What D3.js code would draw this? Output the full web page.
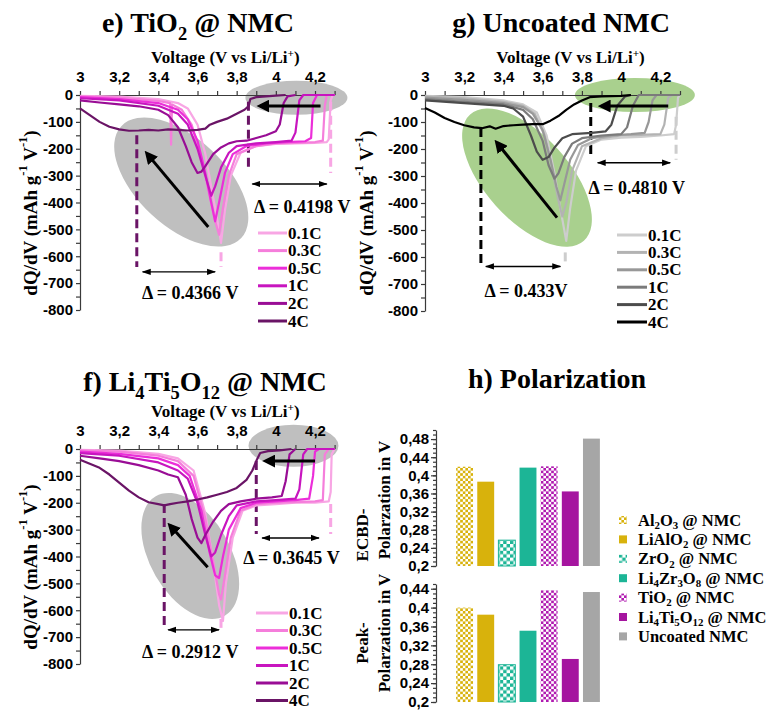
<!DOCTYPE html>
<html>
<head>
<meta charset="utf-8">
<script src="https://cdn.jsdelivr.net/npm/d3@7"></script>
<style>
  html, body { margin: 0; padding: 0; background: #fff; }
  svg { display: block; }
  .serif { font-family: "Liberation Serif", "Times New Roman", serif; font-weight: bold; fill: #000; }
  .tick text { font-family: "Liberation Sans", Arial, sans-serif; font-weight: bold; font-size: 15px; fill: #000; }
  .tick line, .domain { stroke: #3a3a3a; stroke-width: 1.2; }
</style>
</head>
<body>
<svg id="chart"></svg>
<script>
// ---------- data ----------
const rateLabels = ['0.1C', '0.3C', '0.5C', '1C', '2C', '4C'];

// e) TiO2 @ NMC  [voltage, dQ/dV]
const tio2_01C = [[3.00,-3],[3.20,-6],[3.40,-15],[3.50,-30],[3.55,-50],[3.60,-110],[3.64,-220],[3.68,-380],[3.71,-500],[3.72,-550],[3.74,-430],[3.77,-300],[3.82,-215],[3.90,-190],[4.00,-182],[4.10,-180],[4.20,-178],[4.26,-175],[4.27,-165],[4.28,-20],[4.29,0],[4.30,0]];
const tio2_03C = [[3.00,-5],[3.20,-10],[3.40,-22],[3.46,-30],[3.465,-185],[3.47,-35],[3.52,-55],[3.57,-110],[3.62,-230],[3.66,-370],[3.69,-470],[3.71,-520],[3.73,-420],[3.76,-300],[3.80,-220],[3.90,-190],[4.00,-180],[4.10,-178],[4.20,-175],[4.24,-170],[4.25,-40],[4.26,0],[4.30,0]];
const tio2_05C = [[3.00,-8],[3.20,-15],[3.40,-30],[3.50,-55],[3.55,-90],[3.60,-170],[3.64,-290],[3.67,-400],[3.69,-470],[3.71,-400],[3.74,-290],[3.78,-220],[3.85,-190],[3.95,-180],[4.05,-175],[4.15,-172],[4.18,-160],[4.19,-30],[4.21,0],[4.30,0]];
const tio2_1C = [[3.00,-12],[3.20,-20],[3.40,-40],[3.50,-70],[3.55,-110],[3.60,-200],[3.64,-300],[3.67,-375],[3.69,-340],[3.72,-270],[3.76,-215],[3.80,-190],[3.90,-180],[4.00,-175],[4.08,-170],[4.10,-140],[4.12,-20],[4.14,0],[4.30,0]];
const tio2_2C = [[3.00,-20],[3.10,-28],[3.20,-35],[3.30,-42],[3.40,-55],[3.45,-75],[3.50,-120],[3.54,-190],[3.57,-250],[3.60,-290],[3.62,-285],[3.64,-265],[3.68,-220],[3.72,-195],[3.76,-180],[3.80,-172],[3.85,-170],[3.90,-160],[3.95,-150],[4.00,-135],[4.02,-110],[4.04,-30],[4.06,-5],[4.10,0]];
const tio2_4C = [[3.00,-50],[3.05,-75],[3.10,-100],[3.15,-118],[3.20,-128],[3.25,-133],[3.30,-132],[3.35,-130],[3.40,-132],[3.45,-128],[3.50,-130],[3.55,-132],[3.60,-130],[3.64,-125],[3.66,-112],[3.70,-100],[3.75,-88],[3.80,-70],[3.84,-55],[3.86,-42],[3.87,-15],[3.90,-8],[3.95,-5],[4.00,-2],[4.05,0]];
const tio2Curves = [tio2_01C, tio2_03C, tio2_05C, tio2_1C, tio2_2C, tio2_4C];

// g) Uncoated NMC
const bare_01C = [[3.00,-3],[3.20,-8],[3.40,-20],[3.50,-35],[3.57,-65],[3.62,-150],[3.66,-290],[3.69,-420],[3.71,-500],[3.72,-540],[3.74,-420],[3.77,-280],[3.82,-190],[3.90,-165],[4.00,-158],[4.10,-155],[4.20,-150],[4.27,-145],[4.28,-110],[4.29,-10],[4.30,0]];
const bare_03C = [[3.00,-5],[3.20,-12],[3.40,-25],[3.50,-40],[3.56,-70],[3.61,-150],[3.65,-280],[3.68,-390],[3.70,-450],[3.72,-400],[3.75,-280],[3.80,-190],[3.90,-160],[4.00,-150],[4.10,-148],[4.20,-145],[4.22,-110],[4.24,-10],[4.26,0],[4.30,0]];
const bare_05C = [[3.00,-10],[3.20,-18],[3.40,-30],[3.50,-45],[3.55,-70],[3.60,-130],[3.64,-240],[3.67,-340],[3.69,-390],[3.71,-330],[3.74,-240],[3.78,-185],[3.85,-160],[3.95,-150],[4.05,-145],[4.12,-140],[4.14,-100],[4.16,-20],[4.18,0],[4.30,0]];
const bare_1C = [[3.00,-15],[3.20,-25],[3.40,-35],[3.50,-55],[3.55,-90],[3.60,-170],[3.63,-260],[3.66,-310],[3.68,-290],[3.71,-230],[3.75,-180],[3.80,-160],[3.90,-150],[4.00,-145],[4.03,-120],[4.06,-40],[4.09,0],[4.30,0]];
const bare_2C = [[3.00,-20],[3.20,-30],[3.40,-40],[3.45,-50],[3.50,-80],[3.54,-150],[3.57,-210],[3.60,-240],[3.63,-230],[3.66,-195],[3.70,-160],[3.75,-145],[3.85,-140],[3.92,-135],[3.95,-110],[3.98,-40],[4.02,-5],[4.05,0]];
const bare_4C = [[3.00,-48],[3.05,-65],[3.10,-85],[3.15,-100],[3.20,-112],[3.25,-120],[3.29,-123],[3.33,-116],[3.36,-125],[3.40,-115],[3.45,-112],[3.50,-110],[3.55,-108],[3.60,-108],[3.64,-95],[3.68,-78],[3.72,-55],[3.76,-35],[3.80,-20],[3.84,-8],[3.90,-5],[4.00,-3],[4.05,0]];
const bareCurves = [bare_01C, bare_03C, bare_05C, bare_1C, bare_2C, bare_4C];

// f) Li4Ti5O12 @ NMC
const lto_01C = [[3.00,-3],[3.20,-6],[3.40,-18],[3.50,-35],[3.58,-80],[3.64,-240],[3.68,-420],[3.71,-580],[3.73,-640],[3.745,-500],[3.78,-330],[3.83,-230],[3.90,-210],[4.00,-205],[4.10,-200],[4.20,-200],[4.27,-195],[4.28,-160],[4.285,-20],[4.30,0]];
const lto_03C = [[3.00,-5],[3.20,-10],[3.40,-25],[3.50,-45],[3.58,-100],[3.64,-260],[3.68,-420],[3.71,-540],[3.72,-560],[3.74,-470],[3.77,-330],[3.82,-230],[3.90,-205],[4.00,-200],[4.10,-198],[4.20,-195],[4.24,-190],[4.25,-20],[4.27,0],[4.30,0]];
const lto_05C = [[3.00,-10],[3.20,-18],[3.40,-35],[3.50,-60],[3.56,-100],[3.62,-230],[3.66,-380],[3.69,-470],[3.71,-480],[3.73,-400],[3.76,-300],[3.82,-220],[3.90,-200],[4.00,-195],[4.10,-190],[4.17,-185],[4.19,-100],[4.20,-10],[4.22,0],[4.30,0]];
const lto_1C = [[3.00,-15],[3.20,-25],[3.40,-50],[3.50,-80],[3.55,-110],[3.60,-200],[3.64,-320],[3.67,-400],[3.69,-385],[3.72,-320],[3.76,-250],[3.80,-210],[3.90,-195],[4.00,-190],[4.10,-185],[4.12,-150],[4.14,-20],[4.16,0],[4.30,0]];
const lto_2C = [[3.00,-25],[3.10,-35],[3.20,-45],[3.30,-60],[3.40,-80],[3.45,-95],[3.50,-105],[3.54,-170],[3.57,-260],[3.60,-330],[3.62,-350],[3.64,-320],[3.68,-270],[3.72,-230],[3.76,-205],[3.82,-195],[3.90,-185],[3.98,-180],[4.03,-175],[4.05,-120],[4.07,-20],[4.10,0]];
const lto_4C = [[3.00,-40],[3.05,-55],[3.10,-70],[3.15,-95],[3.20,-125],[3.25,-155],[3.30,-180],[3.35,-198],[3.40,-205],[3.43,-210],[3.46,-205],[3.50,-200],[3.55,-195],[3.60,-188],[3.65,-180],[3.70,-170],[3.75,-160],[3.80,-145],[3.85,-115],[3.88,-80],[3.90,-45],[3.92,-15],[3.96,-8],[4.02,-5],[4.08,0]];
const ltoCurves = [lto_01C, lto_03C, lto_05C, lto_1C, lto_2C, lto_4C];

// h) Polarization
const coatings = ['Al_{2}O_{3} @ NMC', 'LiAlO_{2} @ NMC', 'ZrO_{2} @ NMC', 'Li_{4}Zr_{3}O_{8} @ NMC', 'TiO_{2} @ NMC', 'Li_{4}Ti_{5}O_{12} @ NMC', 'Uncoated NMC'];
const ecbdPolarization = [0.419, 0.386, 0.257, 0.417, 0.4198, 0.3645, 0.481];
const peakPolarization = [0.400, 0.385, 0.279, 0.351, 0.4366, 0.2912, 0.433];
const ecbdTicks = [0.2, 0.24, 0.28, 0.32, 0.36, 0.4, 0.44, 0.48];
const peakTicks = [0.2, 0.24, 0.28, 0.32, 0.36, 0.4, 0.44];

// ---------- styles ----------
const magentas = ['#f8a6e4', '#f57edb', '#ec2ed9', '#c815bf', '#990d95', '#6a1466'];
const grays = ['#cdcdcd', '#b3b3b3', '#989898', '#7b7b7b', '#4c4c4c', '#000000'];
const gold = '#d8b20c', teal = '#1cb596', purple = '#a5159f', barGray = '#a6a6a6';

const svg = d3.select('#chart').attr('width', 777).attr('height', 711);
const defs = svg.append('defs');

// subscript / superscript helper: "TiO_{2}" , "Li^{+}"
function rich(text, str, fs, subShift = 0.28) {
  let off = 0;
  text.style('font-size', fs + 'px');
  str.split(/([_^]\{[^}]*\})/).filter(Boolean).forEach(part => {
    const m = part.match(/^([_^])\{(.*)\}$/);
    const target = m ? (m[1] === '_' ? fs * subShift : -fs * 0.38) : 0;
    text.append('tspan')
      .attr('dy', target - off)
      .style('font-size', m ? (fs * 0.66) + 'px' : null)
      .text(m ? m[2] : part);
    off = target;
  });
  return text;
}

function checker(id, color, size) {
  const p = defs.append('pattern').attr('id', id)
    .attr('patternUnits', 'userSpaceOnUse')
    .attr('width', size * 2).attr('height', size * 2);
  p.append('rect').attr('width', size * 2).attr('height', size * 2).attr('fill', color);
  p.append('rect').attr('width', size).attr('height', size).attr('fill', '#fff');
  p.append('rect').attr('x', size).attr('y', size).attr('width', size).attr('height', size).attr('fill', '#fff');
}
checker('chkGold', gold, 2.6);
checker('chkTeal', teal, 3.4);
checker('chkMag', '#b01ab0', 2.6);

defs.append('marker').attr('id', 'bigHead')
  .attr('viewBox', '0 0 10 10').attr('refX', 7).attr('refY', 5)
  .attr('markerUnits', 'userSpaceOnUse').attr('markerWidth', 13).attr('markerHeight', 13)
  .attr('orient', 'auto-start-reverse')
  .append('path').attr('d', 'M0,0 L10,5 L0,10 Z').attr('fill', '#000');
defs.append('marker').attr('id', 'thinHead')
  .attr('viewBox', '0 0 10 10').attr('refX', 9).attr('refY', 5)
  .attr('markerUnits', 'userSpaceOnUse').attr('markerWidth', 9).attr('markerHeight', 9)
  .attr('orient', 'auto-start-reverse')
  .append('path').attr('d', 'M0,1.5 L10,5 L0,8.5 Z').attr('fill', '#000');

// ---------- dQ/dV panels ----------
const panels = [
  {
    title: 'e) TiO_{2} @ NMC', titleX: 198, titleY: 32,
    left: 80, right: 334.6, top: 95, bottom: 310, yLabelX: 30,
    curves: tio2Curves, colors: magentas, blob: '#bfbfbf',
    ellipses: [{ v: 3.517, q: -324, rx: 82, ry: 44, rot: 43 }, { v: 4.105, q: -10, rx: 51, ry: 17, rot: 0 }],
    arrows: [{ from: [3.655, -491], to: [3.343, -219] }, { from: [4.228, -41], to: [3.921, -41] }],
    dashes: [{ v: 3.86, q: [-25, -285], c: 5 }, { v: 4.28, q: [-25, -290], c: 0 },
             { v: 3.29, q: [-150, -640], c: 5 }, { v: 3.72, q: [-585, -640], c: 0 }],
    spans: [{ v: [3.88, 4.26], q: -331 }, { v: [3.32, 3.69], q: -658 }],
    notes: [{ v: 4.135, q: -417, t: 'Δ = 0.4198 V' }, { v: 3.563, q: -737, t: 'Δ = 0.4366 V' }],
    legend: { x0: 258, x1: 287, y0: 233, step: 17.6 }
  },
  {
    title: 'g) Uncoated NMC', titleX: 561, titleY: 32,
    left: 425, right: 680, top: 95, bottom: 311, yLabelX: 366,
    curves: bareCurves, colors: grays, blob: '#a9d08e',
    ellipses: [{ v: 3.52, q: -306, rx: 85, ry: 42, rot: 48 }, { v: 4.07, q: 0, rx: 60, ry: 17, rot: 0 }],
    arrows: [{ from: [3.673, -454], to: [3.367, -177] }, { from: [4.24, -41], to: [3.90, -41] }],
    dashes: [{ v: 3.845, q: [-30, -232], c: 5 }, { v: 4.28, q: [-81, -240], c: 0 },
             { v: 3.285, q: [-122, -635], c: 5 }, { v: 3.715, q: [-583, -620], c: 0 }],
    spans: [{ v: [3.88, 4.25], q: -251 }, { v: [3.31, 3.69], q: -635 }],
    notes: [{ v: 4.08, q: -343, t: 'Δ = 0.4810 V' }, { v: 3.515, q: -727, t: 'Δ = 0.433V' }],
    legend: { x0: 617, x1: 647, y0: 235, step: 17.4 }
  },
  {
    title: 'f) Li_{4}Ti_{5}O_{12} @ NMC', titleX: 205, titleY: 391,
    left: 80, right: 334.6, top: 449, bottom: 664, yLabelX: 30,
    curves: ltoCurves, colors: magentas, blob: '#bfbfbf',
    ellipses: [{ v: 3.563, q: -398, rx: 69, ry: 40, rot: 60 }, { v: 4.09, q: 12, rx: 45, ry: 21, rot: 0 }],
    arrows: [{ from: [3.652, -440], to: [3.46, -285] }, { from: [4.20, -45], to: [3.95, -45] }],
    dashes: [{ v: 3.9, q: [-45, -316], c: 5 }, { v: 4.28, q: [-205, -316], c: 0 },
             { v: 3.43, q: [-205, -670], c: 5 }, { v: 3.72, q: [-632, -670], c: 0 }],
    spans: [{ v: [3.93, 4.22], q: -331 }, { v: [3.45, 3.71], q: -673 }],
    notes: [{ v: 4.08, q: -405, t: 'Δ = 0.3645 V' }, { v: 3.563, q: -755, t: 'Δ = 0.2912 V' }],
    legend: { x0: 256, x1: 288, y0: 613, step: 17.5 }
  }
];

panels.forEach(p => {
  const x = d3.scaleLinear().domain([3, 4.3]).range([p.left, p.right]);
  const y = d3.scaleLinear().domain([0, -800]).range([p.top, p.bottom]);
  const g = svg.append('g');

  // highlight blobs
  p.ellipses.forEach(e => {
    g.append('ellipse')
      .attr('cx', x(e.v)).attr('cy', y(e.q))
      .attr('rx', e.rx).attr('ry', e.ry)
      .attr('transform', `rotate(${e.rot},${x(e.v)},${y(e.q)})`)
      .attr('fill', p.blob);
  });

  // dashed markers
  p.dashes.forEach(d => {
    g.append('line')
      .attr('x1', x(d.v)).attr('x2', x(d.v))
      .attr('y1', y(d.q[0])).attr('y2', y(d.q[1]))
      .attr('stroke', p.colors[d.c]).attr('stroke-width', 3)
      .attr('stroke-dasharray', '9,5');
  });

  // axes
  const xAxis = d3.axisTop(x)
    .tickValues(d3.range(30, 44).map(d => d / 10))
    .tickSize(4).tickSizeOuter(0).tickPadding(9)
    .tickFormat(v => (Math.round(v * 10) % 2 === 0 && v <= 4.2) ? String(+v.toFixed(1)).replace('.', ',') : '');
  g.append('g').attr('transform', `translate(0,${p.top})`).call(xAxis);

  const yAxis = d3.axisLeft(y)
    .tickValues(d3.range(-800, 1, 50))
    .tickSize(4).tickSizeOuter(0).tickPadding(3)
    .tickFormat(v => v % 100 === 0 ? String(v) : '');
  g.append('g').attr('transform', `translate(${p.left},0)`).call(yAxis);

  // curves
  const line = d3.line().x(d => x(d[0])).y(d => y(d[1]));
  p.curves.forEach((c, i) => {
    g.append('path').datum(c)
      .attr('d', line)
      .attr('fill', 'none')
      .attr('stroke', p.colors[i])
      .attr('stroke-width', 2.2)
      .attr('stroke-linejoin', 'round');
  });

  // trend arrows
  p.arrows.forEach(a => {
    g.append('line')
      .attr('x1', x(a.from[0])).attr('y1', y(a.from[1]))
      .attr('x2', x(a.to[0])).attr('y2', y(a.to[1]))
      .attr('stroke', '#000').attr('stroke-width', 3)
      .attr('marker-end', 'url(#bigHead)');
  });

  // delta spans
  p.spans.forEach(s => {
    g.append('line')
      .attr('x1', x(s.v[0])).attr('x2', x(s.v[1]))
      .attr('y1', y(s.q)).attr('y2', y(s.q))
      .attr('stroke', '#000').attr('stroke-width', 1.4)
      .attr('marker-start', 'url(#thinHead)').attr('marker-end', 'url(#thinHead)');
  });
  p.notes.forEach(n => {
    g.append('text').attr('class', 'serif')
      .attr('x', x(n.v)).attr('y', y(n.q))
      .attr('text-anchor', 'middle').attr('dominant-baseline', 'central')
      .style('font-size', '18px')
      .text(n.t);
  });

  // titles
  rich(g.append('text').attr('class', 'serif')
    .attr('x', p.titleX).attr('y', p.titleY).attr('text-anchor', 'middle'), p.title, 28);
  rich(g.append('text').attr('class', 'serif')
    .attr('x', (p.left + p.right) / 2 + 18).attr('y', p.top - 32).attr('text-anchor', 'middle'),
    'Voltage (V vs Li/Li^{+})', 17);
  rich(g.append('text').attr('class', 'serif')
    .attr('transform', `translate(${p.yLabelX},${p.top + 118}) rotate(-90)`)
    .attr('text-anchor', 'middle').attr('dominant-baseline', 'central'),
    'dQ/dV (mAh g^{-1} V^{-1})', 19);

  // legend
  const lg = g.append('g');
  rateLabels.forEach((r, i) => {
    const ly = p.legend.y0 + i * p.legend.step;
    lg.append('line')
      .attr('x1', p.legend.x0).attr('x2', p.legend.x1)
      .attr('y1', ly).attr('y2', ly)
      .attr('stroke', p.colors[i]).attr('stroke-width', 3);
    lg.append('text').attr('class', 'serif')
      .attr('x', p.legend.x1 + 1).attr('y', ly)
      .attr('dominant-baseline', 'central')
      .style('font-size', '17px')
      .text(r);
  });
});

// ---------- h) Polarization ----------
const barFills = ['url(#chkGold)', gold, 'url(#chkTeal)', teal, 'url(#chkMag)', purple, barGray];
const xBand = d3.scaleBand().domain(d3.range(coatings.length)).range([454, 602])
  .paddingInner(0.2).paddingOuter(0.1);
const fmt = v => String(+v.toFixed(2)).replace('.', ',');

const barCharts = [
  { values: ecbdPolarization, ticks: ecbdTicks, domain: [0.2, 0.5], range: [566, 430],
    label: ['ECBD-', 'Polarzation in V'], labelY: [535, 500] },
  { values: peakPolarization, ticks: peakTicks, domain: [0.2, 0.45], range: [702, 584],
    label: ['Peak-', 'Polarzation in V'], labelY: [643, 633] }
];

const h = svg.append('g');
rich(h.append('text').attr('class', 'serif')
  .attr('x', 557).attr('y', 388).attr('text-anchor', 'middle'), 'h) Polarization', 28);

barCharts.forEach(bc => {
  const y = d3.scaleLinear().domain(bc.domain).range(bc.range);
  h.append('g').attr('transform', 'translate(436,0)')
    .call(d3.axisLeft(y).tickValues(d3.range(Math.round(bc.domain[0] * 100), Math.round(bc.domain[1] * 100) + 1).map(d => d / 100))
      .tickSize(3).tickSizeOuter(0).tickFormat(''));
  h.append('g').attr('transform', 'translate(436,0)')
    .call(d3.axisLeft(y).tickValues(bc.ticks).tickSize(5).tickSizeOuter(0).tickPadding(2).tickFormat(fmt))
    .select('.domain').remove();

  h.append('g').selectAll('rect')
    .data(bc.values)
    .join('rect')
      .attr('x', (d, i) => xBand(i))
      .attr('y', d => y(d))
      .attr('width', xBand.bandwidth())
      .attr('height', d => y(bc.domain[0]) - y(d))
      .attr('fill', (d, i) => barFills[i])
      .attr('stroke', (d, i) => i === 2 ? teal : 'none')
      .attr('stroke-width', 1);

  [362, 384].forEach((lx, k) => {
    h.append('text').attr('class', 'serif')
      .attr('transform', `translate(${lx},${bc.labelY[k]}) rotate(-90)`)
      .attr('text-anchor', 'middle').attr('dominant-baseline', 'central')
      .style('font-size', '17px')
      .text(bc.label[k]);
  });
});

// legend
coatings.forEach((c, i) => {
  const ly = 520 + i * 19.4;
  h.append('rect')
    .attr('x', 619).attr('y', ly - 4).attr('width', 8).attr('height', 8)
    .attr('fill', barFills[i]);
  rich(h.append('text').attr('class', 'serif')
    .attr('x', 638).attr('y', ly + 5.5), c, 16.5, 0.2);
});
</script>
</body>
</html>
